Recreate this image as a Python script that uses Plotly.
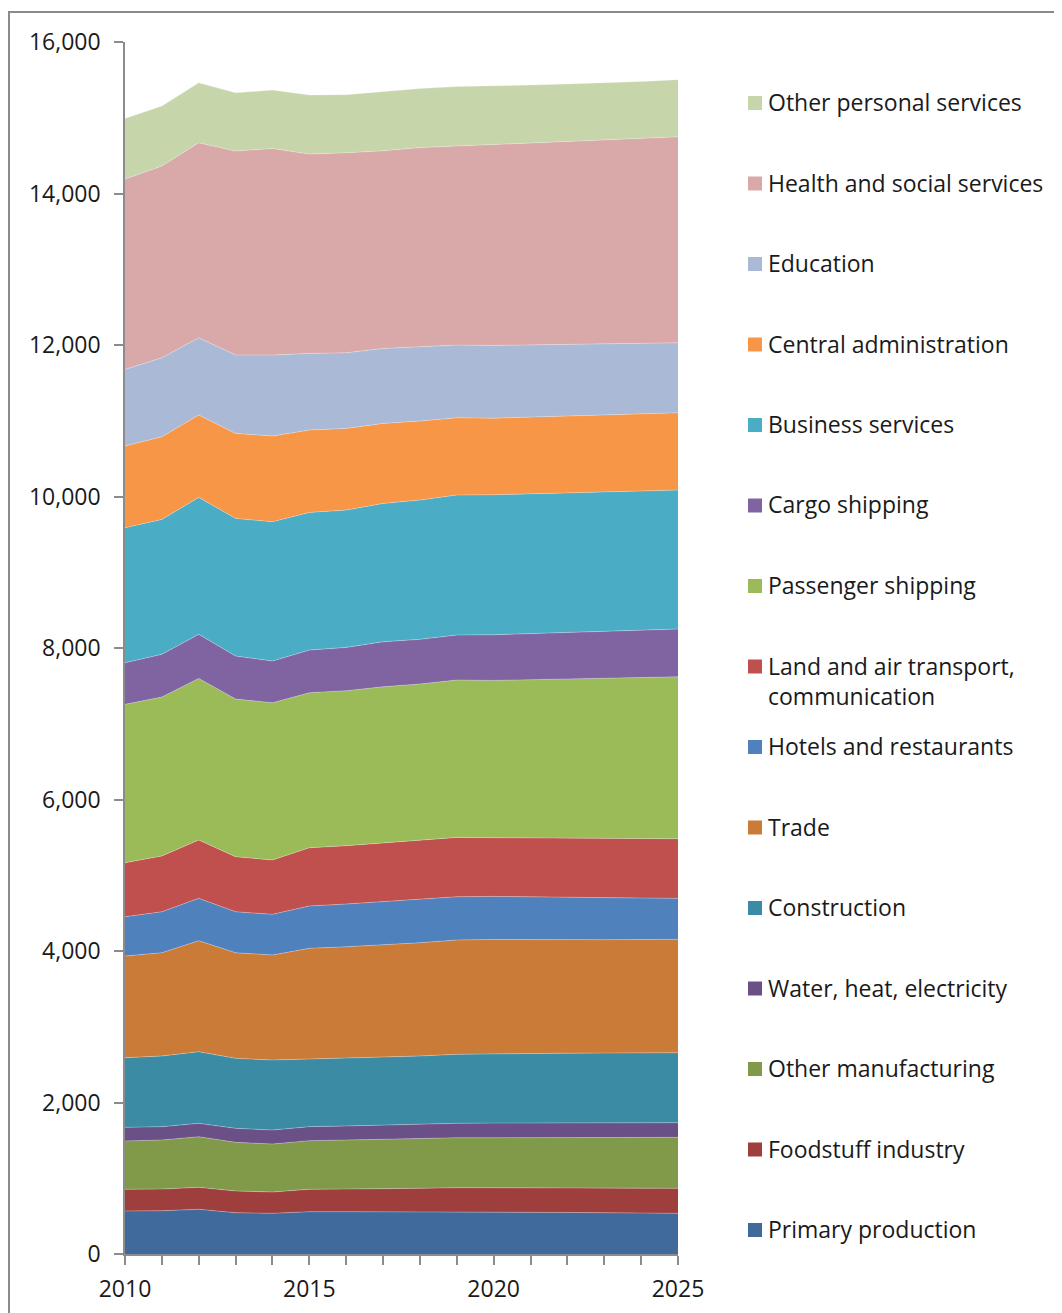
import plotly.graph_objects as go

# Employment by sector, stacked (persons)
years = list(range(2010, 2026))

primary_production = [568, 571, 590, 545, 537, 558, 558, 558, 558, 558, 555, 552, 549, 545, 541, 537]
foodstuff_industry = [286, 287, 290, 287, 281, 296, 300, 309, 309, 317, 317, 320, 323, 326, 328, 330]
other_manufacturing = [638, 647, 668, 642, 634, 642, 647, 647, 660, 660, 663, 665, 667, 669, 671, 673]
water_heat_electricity = [180, 176, 177, 185, 185, 185, 185, 189, 185, 190, 193, 193, 193, 193, 193, 193]
construction = [919, 933, 945, 924, 924, 893, 893, 893, 902, 911, 916, 918, 919, 920, 922, 924]
trade = [1343, 1363, 1466, 1394, 1386, 1461, 1473, 1483, 1495, 1509, 1509, 1503, 1497, 1497, 1497, 1497]
hotels_restaurants = [518, 541, 559, 541, 537, 559, 564, 571, 573, 571, 568, 563, 558, 553, 547, 541]
land_air_transport = [713, 736, 770, 726, 717, 769, 770, 779, 783, 784, 774, 779, 784, 785, 786, 787]
passenger_shipping = [2091, 2098, 2134, 2082, 2076, 2046, 2046, 2059, 2059, 2077, 2077, 2088, 2099, 2112, 2125, 2138]
cargo_shipping = [549, 564, 581, 568, 551, 564, 572, 594, 590, 594, 603, 609, 615, 620, 625, 630]
business_services = [1782, 1782, 1808, 1817, 1838, 1817, 1813, 1827, 1839, 1848, 1848, 1844, 1840, 1838, 1836, 1835]
central_administration = [1079, 1090, 1087, 1122, 1132, 1087, 1078, 1056, 1043, 1020, 1011, 1016, 1021, 1021, 1020, 1020]
education = [1012, 1043, 1020, 1034, 1069, 1012, 998, 990, 980, 960, 960, 953, 946, 939, 931, 924]
health_social = [2512, 2531, 2574, 2693, 2728, 2631, 2640, 2609, 2630, 2627, 2653, 2663, 2674, 2689, 2704, 2719]
other_personal = [801, 792, 792, 769, 770, 779, 768, 781, 779, 785, 772, 766, 762, 752, 752, 755]

series = [
    ("Primary production", primary_production, "#3F6A9B"),
    ("Foodstuff industry", foodstuff_industry, "#9E3F3E"),
    ("Other manufacturing", other_manufacturing, "#809A4A"),
    ("Water, heat, electricity", water_heat_electricity, "#6A5087"),
    ("Construction", construction, "#3A8BA3"),
    ("Trade", trade, "#CB7B38"),
    ("Hotels and restaurants", hotels_restaurants, "#4F81BD"),
    ("Land and air transport,<br>communication", land_air_transport, "#C0504D"),
    ("Passenger shipping", passenger_shipping, "#9BBB59"),
    ("Cargo shipping", cargo_shipping, "#8064A2"),
    ("Business services", business_services, "#4BACC6"),
    ("Central administration", central_administration, "#F79646"),
    ("Education", education, "#AAB9D6"),
    ("Health and social services", health_social, "#D9A9A9"),
    ("Other personal services", other_personal, "#C6D5AA"),
]

W, H = 1062, 1313
L, R, T, B = 125, 678, 42, 1254  # plot area in page pixels
PAGE_OFF = 8  # default body margin of the html page
FONT = "Open Sans"
TXT = "#1a1a1a"
AX = "#8c8c8c"


def px_x(p):
    return (p - L) / (R - L)


def px_y(p):
    return (B - p) / (B - T)


fig = go.Figure()
for name, vals, color in series:
    fig.add_trace(go.Scatter(
        x=years, y=vals, name=name.replace("<br>", " "),
        mode="lines", stackgroup="one",
        line=dict(width=0.6, color="rgba(255,255,255,0.45)"),
        fillcolor=color, showlegend=False, hoverinfo="x+y+name",
    ))

# legend drawn manually to mimic the evenly spaced spreadsheet legend
shapes = []
annotations = []
first_c, step = 103, 80.5
for i, (name, vals, color) in enumerate(reversed(series)):
    c = first_c + i * step
    shapes.append(dict(type="rect", xref="paper", yref="paper",
                       x0=px_x(748), x1=px_x(762), y0=px_y(c + 7), y1=px_y(c - 7),
                       fillcolor=color, line=dict(width=0)))
    annotations.append(dict(xref="paper", yref="paper", x=px_x(766), y=px_y(c - 19),
                            xanchor="left", yanchor="top", align="left",
                            text=name, showarrow=False,
                            font=dict(family=FONT, size=23, color=TXT)))

# outer chart border (only top and left visible in the reference)
shapes.append(dict(type="rect", xref="paper", yref="paper",
                   x0=px_x(9), x1=px_x(1090), y0=px_y(1340), y1=px_y(12),
                   line=dict(color="#8a8a8a", width=2), fillcolor="rgba(0,0,0,0)"))

fig.update_layout(
    width=W, height=H,
    margin=dict(l=L - PAGE_OFF, r=W - R + PAGE_OFF, t=T - PAGE_OFF, b=H - B + PAGE_OFF),
    paper_bgcolor="white", plot_bgcolor="white",
    font=dict(family=FONT, size=23, color=TXT),
    shapes=shapes, annotations=annotations,
)
fig.update_xaxes(
    range=[2010, 2025], dtick=5, tick0=2010,
    showgrid=False, zeroline=False,
    showline=True, linecolor=AX, linewidth=1.5,
    ticks="outside", ticklen=9, tickcolor=AX, tickwidth=1.5,
    minor=dict(dtick=1, ticks="outside", ticklen=9, tickcolor=AX, tickwidth=1.5),
    ticklabelstandoff=5,
    tickfont=dict(family=FONT, size=23, color=TXT),
)
fig.update_yaxes(
    range=[0, 16000], dtick=2000, tickformat=",",
    showgrid=False, zeroline=False,
    showline=True, linecolor=AX, linewidth=1.5,
    ticks="outside", ticklen=9, tickcolor=AX, tickwidth=1.5,
    ticklabelstandoff=9,
    tickfont=dict(family=FONT, size=23, color=TXT),
)

fig.write_html("out.html")
